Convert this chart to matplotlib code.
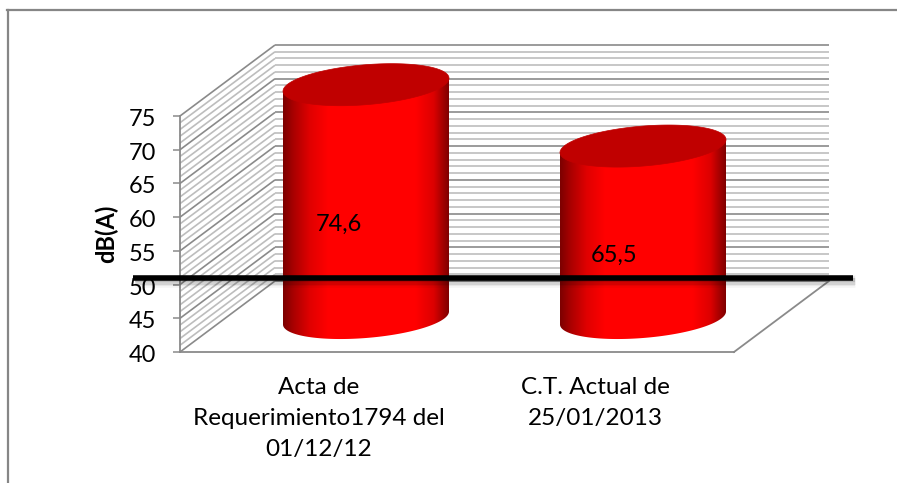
import numpy as np
import matplotlib
matplotlib.use('Agg')
import matplotlib.pyplot as plt
from matplotlib.patches import PathPatch
from matplotlib.path import Path
from matplotlib.colors import LinearSegmentedColormap
from matplotlib.transforms import ScaledTranslation

# chart values
categories = ['Acta de\nRequerimiento1794 del\n01/12/12', 'C.T. Actual de\n25/01/2013']
values = [74.6, 65.5]
value_labels = ['74,6', '65,5']
y_ticks = [40, 45, 50, 55, 60, 65, 70, 75]
y_label = 'dB(A)'
limit_value = 50.95

W, H = 897, 483
GRID_DARK = '#8a8a8a'
GRID_LIGHT = '#bdbdbd'

plt.rcParams['font.family'] = ['Lato', 'DejaVu Sans']

fig = plt.figure(figsize=(W / 100, H / 100), dpi=100)
fig.patch.set_facecolor('white')

# the axes is the front plane of the 3d box
left, right, top, bottom = 180, 734, 116, 352
ax = fig.add_axes([left / W, 1 - bottom / H, (right - left) / W, (bottom - top) / H])
ax.set_facecolor('none')
ax.set_xlim(-0.5, 1.5)
ax.set_ylim(40, 75)

px_x = 2.0 / (right - left)
px_y = 35.0 / (bottom - top)
depth_x = 95 * px_x   # oblique offset to the back wall
depth_y = 71 * px_y


def cylinder(x_center, value):
    cx = x_center + depth_x / 2
    base = 40 + depth_y / 2 - 1.5 * px_y
    half = 83 * px_x
    t = np.linspace(0, 2 * np.pi, 201)
    ex = half * np.cos(t)
    ey = (6.5 * np.cos(t) + 20 * np.sin(t)) * px_y
    top_y = base + (value - 40)

    # body outline: lower half of the base ellipse, then up to the top ellipse ends
    verts = list(zip(cx + ex[100:], base + ey[100:]))
    verts += [(cx + half, top_y + 6.5 * px_y), (cx - half, top_y - 6.5 * px_y), verts[0]]
    clip = PathPatch(Path(verts), transform=ax.transData, fc='none', ec='none')
    ax.add_patch(clip)

    shade = LinearSegmentedColormap.from_list('body', [
        (0.0, '#7c0000'), (0.06, '#a80000'), (0.16, '#e00000'), (0.27, '#ff0000'),
        (0.80, '#ff0000'), (0.91, '#dc0000'), (1.0, '#800000')])
    grad = np.linspace(0, 1, 256).reshape(1, -1)
    im = ax.imshow(grad, cmap=shade, aspect='auto', zorder=3,
                   extent=[cx - half, cx + half, base - 25 * px_y, top_y + 10 * px_y])
    # body rises above the front plane, so the axes box must not clip it
    im.set_clip_box(fig.bbox)
    im.set_clip_path(clip)

    # top face
    ax.fill(cx + ex, top_y + ey, fc='#c00000', ec='#c00000', lw=0.5, zorder=4, clip_on=False)


# side wall and back wall grid, one line per unit
for v in range(40, 76):
    color = GRID_DARK if v % 5 == 0 else GRID_LIGHT
    ax.plot([-0.5, -0.5 + depth_x], [v, v + depth_y], color=color, lw=1.2, clip_on=False,
            solid_capstyle='butt', zorder=1)
    ax.plot([-0.5 + depth_x, 1.5 + depth_x], [v + depth_y, v + depth_y], color=color, lw=1.2,
            clip_on=False, solid_capstyle='butt', zorder=1)

# floor
ax.plot([1.5, 1.5 + depth_x], [40, 40 + depth_y], color=GRID_DARK, lw=1.3, clip_on=False, zorder=1)

for i, v in enumerate(values):
    cylinder(i, v)

ax.set_xlim(-0.5, 1.5)
ax.set_ylim(40, 75)

# data labels
ax.text(0 + 20 * px_x, 59.0, value_labels[0], ha='center', va='center', fontsize=17, color='black', zorder=6)
ax.text(1 + 19 * px_x, 54.3, value_labels[1], ha='center', va='center', fontsize=17, color='black', zorder=6)

# black reference line with its soft shadow
x0 = -0.5 - 47 * px_x
x1 = 1.5 + 119 * px_x
for off, lw, a in [(3.0, 9.0, 0.04), (3.0, 7.0, 0.06), (2.5, 5.0, 0.08), (2.0, 3.0, 0.12)]:
    ax.plot([x0 + 1.5 * px_x, x1 + 1.5 * px_x], [limit_value - off * px_y] * 2, color='black',
            lw=lw, alpha=a, solid_capstyle='butt', clip_on=False, zorder=7)
ax.plot([x0, x1], [limit_value, limit_value], color='black', lw=4.0, solid_capstyle='butt',
        clip_on=False, zorder=8)

# axes
for s in ['top', 'right']:
    ax.spines[s].set_visible(False)
for s in ['left', 'bottom']:
    ax.spines[s].set_color(GRID_DARK)
    ax.spines[s].set_linewidth(1.3)
ax.set_axisbelow(True)
ax.set_yticks(y_ticks)
ax.tick_params(axis='y', length=5.4, width=1.1, color=GRID_DARK, labelsize=17, pad=12, labelcolor='black')
shift = ScaledTranslation(0, -1.5 / 100, fig.dpi_scale_trans)
for lab in ax.get_yticklabels():
    lab.set_transform(lab.get_transform() + shift)
ax.set_xticks([0, 1])
ax.set_xticklabels(categories, fontsize=17.5, linespacing=1.6)
ax.tick_params(axis='x', length=0, pad=18)
ax.set_ylabel(y_label, fontsize=17, fontweight='bold', labelpad=7)

# outer frame, only top and left show
fig.add_artist(plt.Line2D([8 / W, 8 / W], [0, 1 - 10 / H], color='#868686', lw=1.6))
fig.add_artist(plt.Line2D([7 / W, 1], [1 - 10 / H, 1 - 10 / H], color='#868686', lw=1.6))

plt.savefig('out.png', dpi=100)
